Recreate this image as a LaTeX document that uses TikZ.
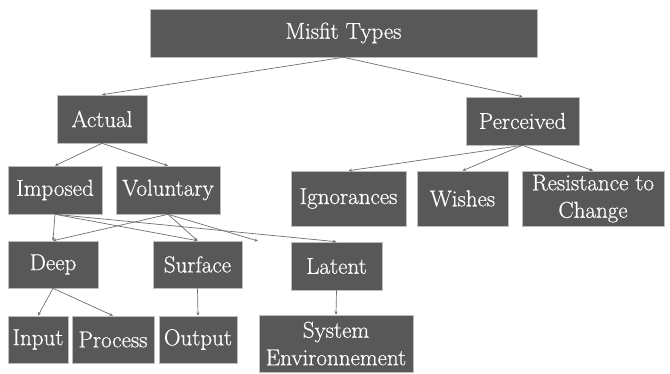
\documentclass[tikz,border=0pt]{standalone}
\usepackage{fontspec}
\newfontfamily\boxfont{Latin Modern Roman}[FakeBold=0.6]
\usetikzlibrary{arrows.meta}
\definecolor{boxfill}{HTML}{585858}
\definecolor{boxedge}{HTML}{BDBDBD}
\definecolor{linkgray}{HTML}{6E6E6E}
\begin{document}
\begin{tikzpicture}[x=1pt,y=-1pt,
  box/.style={draw=boxedge,line width=0.6pt,fill=boxfill,text=white,
    inner sep=0pt,align=center,
    font=\boxfont\fontsize{23}{27.5}\selectfont},
  link/.style={draw=linkgray,line width=0.7pt,
    -{Stealth[length=3.5pt,width=3pt]}}]
\useasboundingbox (0,0) rectangle (670,373);

% top level
\node[box,minimum width=387pt,minimum height=48pt] (misfit) at (343.5,33) {Misfit Types};

% second level
\node[box,minimum width=90pt,minimum height=48pt] (actual) at (102,119) {Actual};
\node[box,minimum width=113pt,minimum height=48pt] (perceived) at (522.5,121) {Perceived};

% kinds of actual misfit
\node[box,minimum width=94pt,minimum height=48pt] (imposed) at (55,190) {Imposed};
\node[box,minimum width=104pt,minimum height=48pt] (voluntary) at (168,190) {Voluntary};

% kinds of perceived misfit
\node[box,minimum width=115pt,minimum height=55pt] (ignorances) at (348.5,198.5) {Ignorances};
\node[box,minimum width=91pt,minimum height=55pt] (wishes) at (462.5,198.5) {Wishes};
\node[box,minimum width=142pt,minimum height=55pt] (resistance) at (593,198.5) {Resistance to\\Change};

% depth of misfit
\node[box,minimum width=90pt,minimum height=47pt] (deep) at (53,264.5) {Deep};
\node[box,minimum width=89pt,minimum height=47pt] (surface) at (197.5,264.5) {Surface};
\node[box,minimum width=91pt,minimum height=48pt] (latent) at (336.5,266) {Latent};
\coordinate (loose) at (258,241);

% bottom level
\node[box,minimum width=60pt,minimum height=47pt] (input) at (38,339.5) {Input};
\node[box,minimum width=82pt,minimum height=47pt] (process) at (113,339.5) {Process};
\node[box,minimum width=78pt,minimum height=47pt] (output) at (198,339.5) {Output};
\node[box,minimum width=154pt,minimum height=57pt] (system) at (336,343.5) {System\\Environnement};

% connectors
\draw[link] (misfit.south) -- (actual.north);
\draw[link] (misfit.south) -- (perceived.north);

\draw[link] (actual.south) -- (imposed.north);
\draw[link] (actual.south) -- (voluntary.north);

\draw[link] (perceived.south) -- (ignorances.north);
\draw[link] (perceived.south) -- (wishes.north);
\draw[link] (perceived.south) -- (resistance.north);

\draw[link] (imposed.south) -- (deep.north);
\draw[link] (imposed.south) -- (surface.north);
\draw[link] (imposed.south) -- (latent.north);
\draw[link] (voluntary.south) -- (deep.north);
\draw[link] (voluntary.south) -- (surface.north);
\draw[link] (voluntary.south) -- (loose);

\draw[link] (deep.south) -- (input.north);
\draw[link] (deep.south) -- (process.north);
\draw[link] (surface.south) -- (output.north);
\draw[link] (latent.south) -- (system.north);
\end{tikzpicture}
\end{document}
